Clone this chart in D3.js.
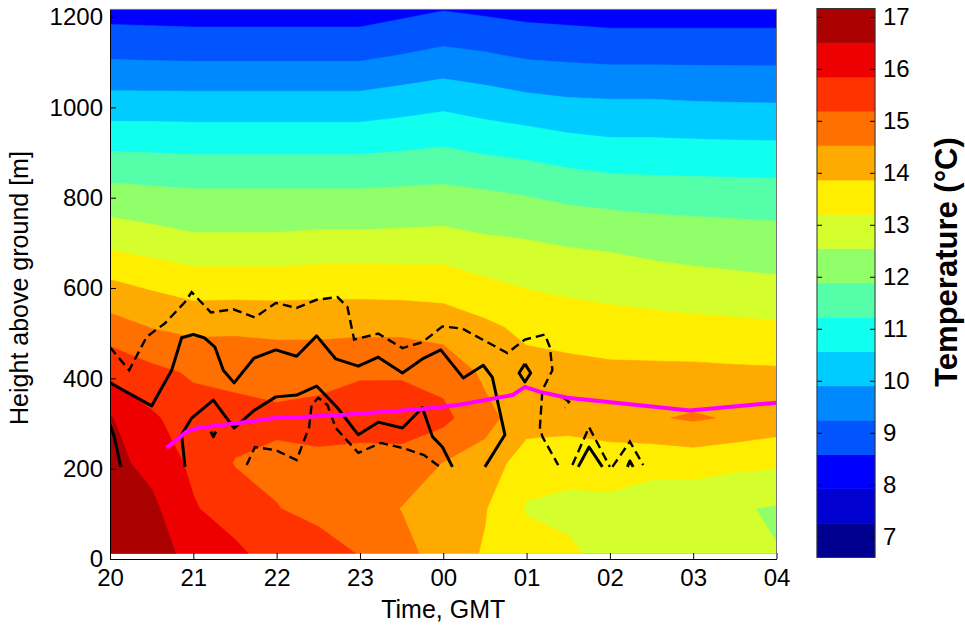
<!DOCTYPE html>
<html>
<head>
<meta charset="utf-8">
<style>
  body { margin: 0; background: #fff; }
  text { font-family: Arial, "Liberation Sans", sans-serif; }
</style>
</head>
<body>
<svg id="chart" width="965" height="625"></svg>
<script src="https://cdn.jsdelivr.net/npm/d3@7"></script>
<script>
// time in hours after 20:00 GMT, height in m above ground
var times = [0, 0.5, 1, 1.5, 2, 2.5, 3, 3.5, 4, 4.5, 5, 5.5, 6, 6.5, 7, 7.5, 8];
var heights = [12, 112, 212, 312, 413, 513, 614, 714, 815, 915, 1016, 1116, 1217];

// temperature profiles (one per time, ground -> top), deg C
var temps = [
  [17.1, 16.9, 16.7, 16.55, 15.7, 14.8, 13.9, 12.9, 12.05, 11.1, 10.1, 9.15, 8.3],
  [16.9, 16.65, 16.3, 15.95, 15.35, 14.5, 13.7, 12.75, 11.98, 11.08, 10.1, 9.12, 8.28],
  [16.2, 15.9, 15.7, 15.45, 15.1, 14.35, 13.5, 12.6, 11.92, 11.05, 10.1, 9.1, 8.25],
  [16.0, 15.5, 15.15, 15.4, 15.0, 14.4, 13.5, 12.6, 11.92, 11.05, 10.1, 9.1, 8.25],
  [15.5, 15.2, 15.05, 15.3, 14.95, 14.35, 13.5, 12.6, 11.92, 11.05, 10.1, 9.1, 8.25],
  [15.45, 15.0, 15.05, 15.4, 14.95, 14.35, 13.55, 12.65, 11.92, 11.05, 10.1, 9.1, 8.25],
  [15.15, 14.85, 14.95, 15.45, 15.12, 14.35, 13.55, 12.65, 11.92, 11.05, 10.1, 9.1, 8.25],
  [14.75, 14.5, 14.9, 15.55, 15.1, 14.35, 13.52, 12.67, 11.96, 11.12, 10.22, 9.25, 8.4],
  [14.2, 14.3, 14.5, 15.35, 14.95, 14.25, 13.5, 12.7, 12.0, 11.2, 10.35, 9.4, 8.55],
  [13.8, 13.9, 14.3, 14.7, 14.4, 14.0, 13.27, 12.57, 11.9, 11.05, 10.2, 9.3, 8.45],
  [13.45, 13.15, 13.45, 14.2, 14.1, 13.7, 13.1, 12.5, 11.8, 10.95, 10.05, 9.15, 8.35],
  [13.3, 13.05, 13.4, 14.15, 14.05, 13.6, 12.98, 12.4, 11.65, 10.8, 9.95, 9.1, 8.3],
  [13.0, 13.0, 13.55, 14.2, 14.0, 13.5, 12.9, 12.35, 11.55, 10.7, 9.92, 9.05, 8.25],
  [12.85, 12.85, 13.4, 14.45, 14.0, 13.45, 12.8, 12.25, 11.5, 10.7, 9.92, 9.05, 8.25],
  [12.75, 12.75, 13.45, 14.6, 14.0, 13.4, 12.72, 12.2, 11.48, 10.68, 9.88, 9.05, 8.25],
  [12.6, 12.6, 13.35, 14.45, 13.97, 13.35, 12.67, 12.15, 11.46, 10.66, 9.86, 9.05, 8.25],
  [12.56, 12.48, 13.3, 14.25, 13.95, 13.3, 12.62, 12.1, 11.45, 10.65, 9.85, 9.05, 8.25]
];

// filled contour levels and their colours (jet-like)
var levels = d3.range(17).map(function(k) { return 6.6 + 0.66 * k; });
var bandColors = ["#000090", "#0000d0", "#0000ff", "#0055ff", "#0088ff", "#00ccff", "#10ffef", "#55ffaa",
  "#90ff6a", "#d4ff2c", "#ffee00", "#ffaa00", "#ff7000", "#ff3300", "#ee0000", "#aa0000"];

var timeTicks = [0, 1, 2, 3, 4, 5, 6, 7, 8];
var timeLabels = ["20", "21", "22", "23", "00", "01", "02", "03", "04"];
var heightTicks = [0, 200, 400, 600, 800, 1000, 1200];
var tempTicks = [7, 8, 9, 10, 11, 12, 13, 14, 15, 16, 17];

// overlaid contour lines of a second field, [time, height]
var solidLines = [
  [[0, 297], [0.05, 271], [0.13, 204]],
  [[0, 390], [0.5, 339], [0.74, 418], [0.86, 490], [1.0, 497], [1.13, 490], [1.26, 469], [1.36, 418],
   [1.49, 390], [1.73, 445], [1.99, 463], [2.24, 449], [2.48, 494], [2.71, 443], [2.98, 427], [3.22, 447],
   [3.51, 412], [3.75, 443], [3.97, 463], [4.24, 401], [4.48, 429], [4.59, 402], [4.74, 275], [4.5, 204]],
  [[0.9, 204], [0.86, 275], [0.98, 312], [1.24, 352], [1.49, 290], [1.73, 329], [1.99, 359], [2.24, 363],
   [2.48, 383], [2.73, 335], [2.98, 275], [3.22, 303], [3.51, 290], [3.75, 335], [3.87, 271], [3.99, 248], [4.11, 204]],
  [[4.98, 432], [5.05, 412], [4.98, 392], [4.91, 412], [4.98, 432]],
  [[5.62, 204], [5.75, 248], [5.91, 204]],
  [[6.21, 204], [6.24, 217], [6.28, 204]],
  [[1.21, 282], [1.24, 271], [1.27, 282]]
];
var dashedLines = [
  [[0, 469], [0.23, 418], [0.44, 492], [0.66, 522], [0.9, 569], [0.98, 591], [1.21, 546], [1.48, 553],
   [1.74, 535], [1.99, 567], [2.24, 556], [2.48, 574], [2.73, 580], [2.85, 558], [2.93, 486], [3.22, 499],
   [3.51, 467], [3.75, 480], [3.99, 515], [4.23, 510], [4.47, 486], [4.77, 456], [4.98, 486], [5.22, 497],
   [5.28, 469], [5.31, 418], [5.19, 374], [5.16, 292], [5.19, 271], [5.38, 208]],
  [[1.64, 208], [1.74, 248], [1.99, 241], [2.24, 219], [2.39, 292], [2.42, 341], [2.5, 357], [2.61, 341],
   [2.71, 290], [2.98, 235], [3.25, 257], [3.51, 246], [3.77, 230], [3.96, 204]],
  [[5.55, 208], [5.75, 292], [6.0, 204]],
  [[6.03, 204], [6.24, 260], [6.4, 208]],
  [[5.44, 357], [5.51, 348], [5.46, 335]]
];
// boundary layer height (magenta)
var blh = [[0.68, 246], [0.92, 282], [1.06, 290], [1.54, 301], [1.98, 312], [2.7, 318], [3.75, 332], [4.18, 341],
  [4.83, 363], [4.98, 381], [5.16, 370], [5.49, 357], [6.96, 329], [8.0, 346]];

var svg = d3.select("#chart");
var x = d3.scaleLinear().domain([0, 8]).range([110, 776.5]);
var y = d3.scaleLinear().domain([0, 1217]).range([559, 9.4]);

// grid -> values row by row (height rows)
var nx = times.length, ny = heights.length;
var values = [];
for (var j = 0; j < ny; j++) {
  for (var i = 0; i < nx; i++) values.push(temps[i][j]);
}

// contour coords (cell centres at k + 0.5) back to data units
function fromGrid(arr, c) {
  var k = c - 0.5, n = arr.length;
  if (k <= 0) return arr[0] + k * (arr[1] - arr[0]);
  if (k >= n - 1) return arr[n - 1] + (k - n + 1) * (arr[n - 1] - arr[n - 2]);
  var f = Math.floor(k);
  return arr[f] + (k - f) * (arr[f + 1] - arr[f]);
}

var proj = d3.geoTransform({
  point: function(px, py) {
    this.stream.point(x(fromGrid(times, px)), y(fromGrid(heights, py)));
  }
});
var path = d3.geoPath(proj);

var contours = d3.contours().size([nx, ny]).thresholds(levels.slice(0, 16))(values);

svg.append("clipPath").attr("id", "plotclip")
  .append("rect")
  .attr("x", x(0)).attr("y", y(heights[ny - 1]))
  .attr("width", x(8) - x(0)).attr("height", y(heights[0]) - y(heights[ny - 1]));

var plot = svg.append("g").attr("clip-path", "url(#plotclip)");

plot.selectAll("path.band")
  .data(contours)
  .enter().append("path")
  .attr("class", "band")
  .attr("d", path)
  .attr("fill", function(d, i) { return bandColors[i]; })
  .attr("stroke", function(d, i) { return bandColors[i]; })
  .attr("stroke-width", 0.6);

var line = d3.line().x(function(d) { return x(d[0]); }).y(function(d) { return y(d[1]); });

plot.selectAll("path.solid")
  .data(solidLines)
  .enter().append("path")
  .attr("d", line)
  .attr("fill", "none")
  .attr("stroke", "#000")
  .attr("stroke-width", 3)
  .attr("stroke-linejoin", "round");

plot.selectAll("path.dashed")
  .data(dashedLines)
  .enter().append("path")
  .attr("d", line)
  .attr("fill", "none")
  .attr("stroke", "#000")
  .attr("stroke-width", 2.4)
  .attr("stroke-dasharray", "9,5");

plot.append("path")
  .attr("d", line(blh))
  .attr("fill", "none")
  .attr("stroke", "#ff00ff")
  .attr("stroke-width", 4)
  .attr("stroke-linejoin", "round");

// axes
svg.append("g")
  .attr("transform", "translate(0," + y(0) + ")")
  .call(d3.axisBottom(x).tickValues(timeTicks)
    .tickFormat(function(d, i) { return timeLabels[i]; })
    .tickSizeInner(-6).tickSizeOuter(0).tickPadding(10));

svg.append("g")
  .attr("transform", "translate(" + x(0) + ",0)")
  .call(d3.axisLeft(y).tickValues(heightTicks).tickFormat(d3.format("d"))
    .tickSizeInner(-6).tickSizeOuter(0).tickPadding(7));

svg.selectAll(".tick text").attr("font-size", 24).attr("fill", "#000")
  .style("font-family", "Arial, 'Liberation Sans', sans-serif");
svg.selectAll(".domain").attr("stroke", "#000");

// box top/right
svg.append("path")
  .attr("d", "M" + x(0) + "," + y(heights[ny - 1]) + "H" + x(8) + "V" + y(0))
  .attr("fill", "none").attr("stroke", "#777").attr("stroke-width", 1);

svg.append("text")
  .attr("x", (x(0) + x(8)) / 2).attr("y", 618)
  .attr("text-anchor", "middle").attr("font-size", 25)
  .text("Time, GMT");

svg.append("text")
  .attr("transform", "translate(28," + y(600) + ") rotate(-90)")
  .attr("text-anchor", "middle").attr("font-size", 25)
  .text("Height above ground [m]");

// colorbar
var cb = d3.scaleLinear().domain([levels[0], levels[16]]).range([557.5, 8.5]);
var cbx = 817, cbw = 58;
var cbar = svg.append("g");
cbar.selectAll("rect")
  .data(d3.range(16))
  .enter().append("rect")
  .attr("x", cbx)
  .attr("y", function(k) { return cb(levels[k + 1]); })
  .attr("width", cbw)
  .attr("height", function(k) { return cb(levels[k]) - cb(levels[k + 1]); })
  .attr("fill", function(k) { return bandColors[k]; })
  .attr("stroke", function(k) { return bandColors[k]; })
  .attr("stroke-width", 0.5);

cbar.append("g")
  .attr("transform", "translate(" + (cbx + cbw) + ",0)")
  .call(d3.axisRight(cb).tickValues(tempTicks).tickSizeInner(-5).tickSizeOuter(0).tickPadding(8))
  .call(function(g) {
    g.selectAll("text").attr("font-size", 24).attr("fill", "#000");
    g.select(".domain").remove();
  });
cbar.append("g")
  .attr("transform", "translate(" + cbx + ",0)")
  .call(d3.axisLeft(cb).tickValues(tempTicks).tickSizeInner(-5).tickSizeOuter(0).tickFormat(""))
  .call(function(g) { g.select(".domain").remove(); });
cbar.append("rect")
  .attr("x", cbx).attr("y", cb(levels[16]))
  .attr("width", cbw).attr("height", cb(levels[0]) - cb(levels[16]))
  .attr("fill", "none").attr("stroke", "#333").attr("stroke-width", 1);

svg.append("text")
  .attr("transform", "translate(957,262) rotate(-90)")
  .attr("text-anchor", "middle").attr("font-size", 31).attr("font-weight", "bold")
  .text("Temperature (\u00B0C)");
</script>
</body>
</html>
